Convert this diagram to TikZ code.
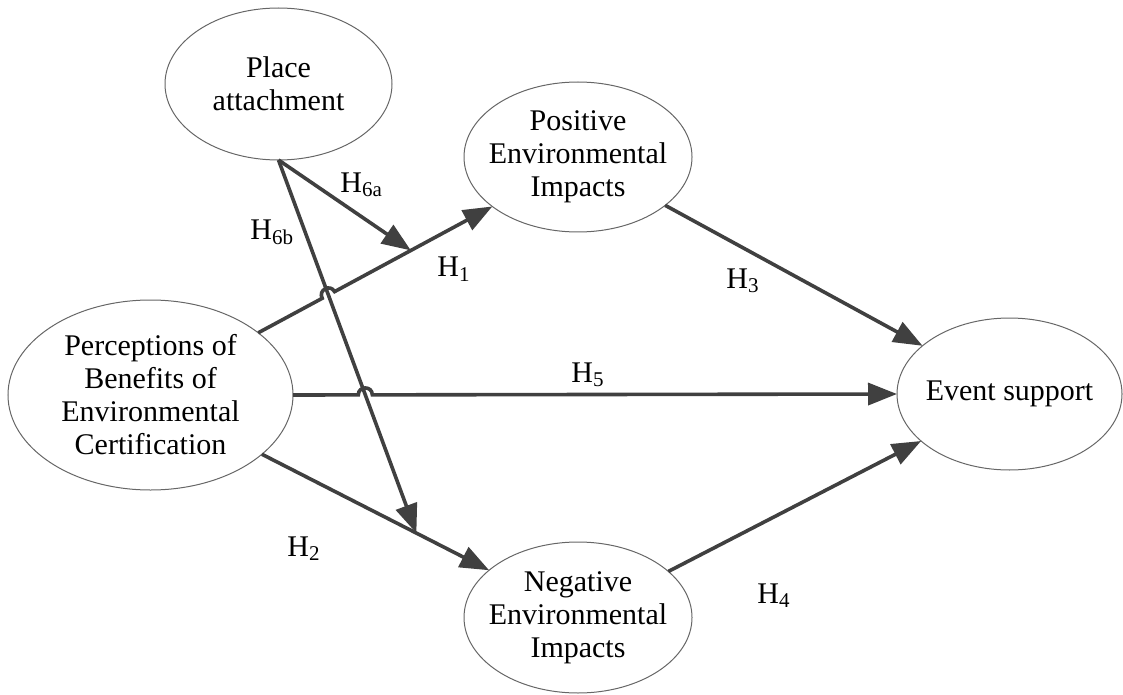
\documentclass[tikz,border=0pt]{standalone}
\usepackage{fontspec}
\setmainfont{Liberation Serif}
\usetikzlibrary{shapes.geometric,arrows.meta,calc}

\begin{document}
\begin{tikzpicture}[x=0.5pt, y=-0.5pt,
    latent/.style={draw=black!60, line width=0.5pt, ellipse, inner sep=-6pt, outer sep=0pt,
        align=center, font=\fontsize{15}{16.5}\selectfont},
    hyp/.style={draw=black!75, line width=1.8pt, -{Triangle[length=14.5pt, width=11pt]}},
    lbl/.style={font=\fontsize{15}{16.5}\selectfont, inner sep=0pt, anchor=base west}]

    \useasboundingbox (0,0) rectangle (1123,695);

    % Costrutti
    \node[latent, minimum width=113.5pt, minimum height=76pt] (pa) at (278.5,84) {Place\\attachment};
    \node[latent, minimum width=114pt, minimum height=75pt] (pos) at (578,157) {Positive\\Environmental\\Impacts};
    \node[latent, minimum width=142.5pt, minimum height=95pt] (perc) at (150.5,395) {Perceptions of\\Benefits of\\Environmental\\Certification};
    \node[latent, minimum width=114pt, minimum height=75.5pt] (neg) at (578,617.5) {Negative\\Environmental\\Impacts};
    \node[latent, minimum width=112.5pt, minimum height=76pt] (es) at (1009.5,394) {Event support};

    % Punti di arrivo di H6a e H6b (sulle frecce H1 e H2)
    \coordinate (h6a) at ($(perc.30)!0.652!(pos.210)$);
    \coordinate (h6b) at ($(perc.-28)!0.68!(neg.152)$);
    % Incroci (salti)
    \coordinate (x1) at (intersection of perc.30--pos.210 and pa.south--h6b);
    \coordinate (x5) at (intersection of perc.east--es.west and pa.south--h6b);

    % Ipotesi
    \draw[hyp] (perc.30) -- ($(x1)!3.5pt!(perc.30)$) to[bend left=90, looseness=1.7] ($(x1)!3.5pt!(pos.210)$) -- (pos.210);
    \draw[hyp] (perc.east) -- ($(x5)!3.5pt!(perc.east)$) to[bend left=90, looseness=1.7] ($(x5)!3.5pt!(es.west)$) -- (es.west);
    \draw[hyp] (perc.-28) -- (neg.152);
    \draw[hyp] (pos.-29) -- (es.151);
    \draw[hyp] (neg.27) -- (es.208);
    \draw[hyp] (pa.south) -- (h6a);
    \draw[hyp] (pa.south) -- (h6b);

    % Etichette
    \node[lbl] (l6a) at (340,192) {H\textsubscript{6a}};
    \node[lbl] (l6b) at (250,240) {H\textsubscript{6b}};
    \node[lbl] (l1) at (437,277) {H\textsubscript{1}};
    \node[lbl] (l5) at (571,382) {H\textsubscript{5}};
    \node[lbl] (l3) at (726,288) {H\textsubscript{3}};
    \node[lbl] (l2) at (287,556) {H\textsubscript{2}};
    \node[lbl] (l4) at (757,603) {H\textsubscript{4}};

\end{tikzpicture}
\end{document}
